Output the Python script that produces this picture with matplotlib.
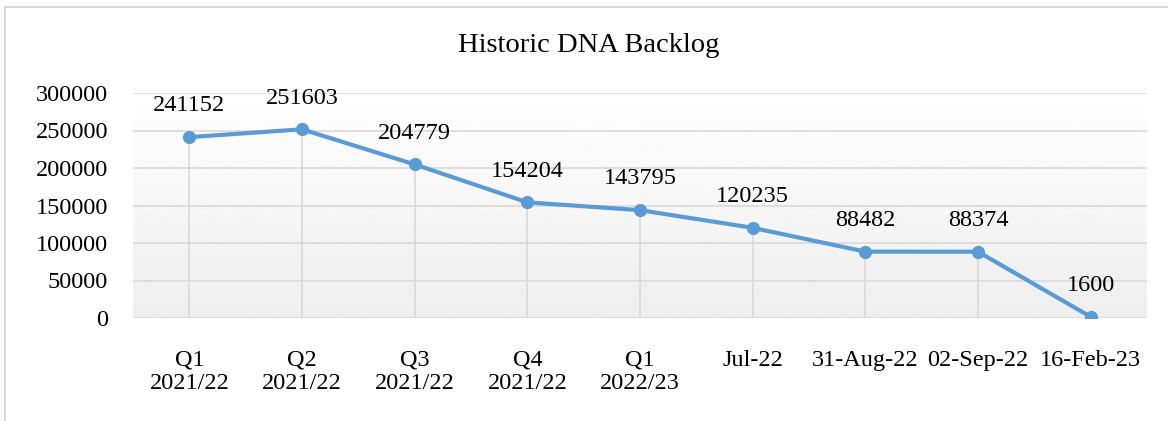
import numpy as np
import matplotlib.pyplot as plt
from matplotlib.lines import Line2D

plt.rcParams["font.family"] = ["Liberation Serif", "DejaVu Serif"]

# data
categories = ["Q1\n2021/22", "Q2\n2021/22", "Q3\n2021/22", "Q4\n2021/22",
              "Q1\n2022/23", "Jul-22", "31-Aug-22", "02-Sep-22", "16-Feb-23"]
backlog = [241152, 251603, 204779, 154204, 143795, 120235, 88482, 88374, 1600]
y_ticks = [0, 50000, 100000, 150000, 200000, 250000, 300000]

blue = "#5B9BD5"
grid = "#D9D9D9"

fig = plt.figure(figsize=(11.68, 4.21), dpi=100)
ax = fig.add_axes([133 / 1168, 1 - 318 / 421, 1014 / 1168, 225 / 421])

x = np.arange(len(categories))
ax.set_xlim(-0.5, len(categories) - 0.5)
ax.set_ylim(0, 300000)

# gradient background, white at top to light gray at bottom
grad = np.linspace(1.0, 0.935, 256).reshape(-1, 1)
ax.imshow(grad, cmap="gray", vmin=0, vmax=1, aspect="auto",
          extent=[-0.5, len(categories) - 0.5, 0, 300000], zorder=0)

for t in y_ticks:
    ax.axhline(t, color=grid, lw=1.2, zorder=1)

# drop lines
ax.vlines(x, 0, backlog, color=grid, lw=1.2, zorder=1)

ax.plot(x, backlog, color=blue, lw=3, marker="o", markersize=8.5, zorder=3)

for xi, v in zip(x, backlog):
    ax.annotate(str(v), (xi, v), xytext=(0, 22.5), textcoords="offset points",
                ha="center", va="center", fontsize=17.5)

ax.set_xticks(x)
ax.set_xticklabels(categories, fontsize=17.5, linespacing=1.15)
ax.set_yticks(y_ticks)
ax.set_yticklabels([str(t) for t in y_ticks], fontsize=17.5)
ax.tick_params(axis="x", length=0, pad=23)
ax.tick_params(axis="y", length=0, pad=18)
for s in ax.spines.values():
    s.set_visible(False)

fig.text(589 / 1168, 1 - 45 / 421, "Historic DNA Backlog", ha="center",
         va="center", fontsize=20.5)

# chart frame (cropped at right and bottom)
fig.add_artist(Line2D([5 / 1168, 5 / 1168], [0, 1 - 7 / 421],
                      transform=fig.transFigure, color=grid, lw=1.5))
fig.add_artist(Line2D([5 / 1168, 1], [1 - 7 / 421, 1 - 7 / 421],
                      transform=fig.transFigure, color=grid, lw=1.5))

fig.savefig("out.png", dpi=100)
